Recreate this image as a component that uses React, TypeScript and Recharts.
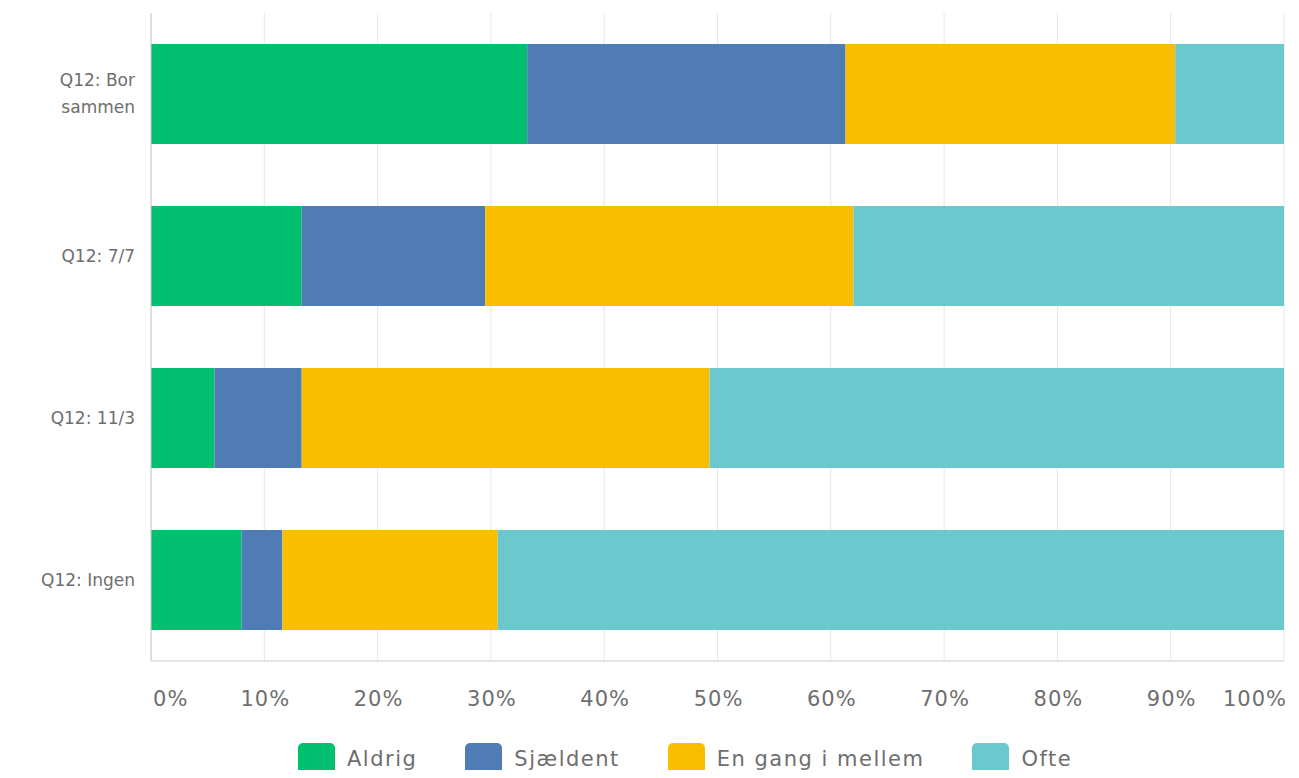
import React from "react";
import { BarChart, Bar, XAxis, YAxis, CartesianGrid } from "recharts";

const categories = ["Q12: Bor sammen", "Q12: 7/7", "Q12: 11/3", "Q12: Ingen"];
const seriesNames = ["Aldrig", "Sjældent", "En gang i mellem", "Ofte"];
const seriesKeys = ["aldrig", "sjaeldent", "engang", "ofte"];
const colors = ["#00BF6F", "#507CB6", "#F9BE00", "#6BC8CD"];
const aldrig = [33.2, 13.3, 5.6, 8.0];
const sjaeldent = [28.1, 16.2, 7.7, 3.6];
const engang = [29.1, 32.5, 36.0, 19.0];
const ofte = [9.6, 38.0, 50.7, 69.4];
const xTicks = [0, 10, 20, 30, 40, 50, 60, 70, 80, 90, 100];

const data = categories.map((c, i) => ({
  name: c,
  aldrig: aldrig[i],
  sjaeldent: sjaeldent[i],
  engang: engang[i],
  ofte: ofte[i],
}));

const FONT = "'DejaVu Sans', sans-serif";
const TEXT = "#6e6e6e";

const XTick = (props: any) => {
  const { x, y, payload } = props;
  const v = payload.value;
  let anchor: "start" | "middle" | "end" = "middle";
  let dx = 1;
  if (v === 0) {
    anchor = "start";
    dx = 2;
  } else if (v === 100) {
    anchor = "end";
    dx = 3;
  }
  return (
    <text
      x={x + dx}
      y={y + 37}
      textAnchor={anchor}
      fill={TEXT}
      fontSize={21}
      letterSpacing={1}
      fontFamily={FONT}
    >
      {v}%
    </text>
  );
};

const wrapLabel = (s: string): string[] => {
  if (s.length <= 10) return [s];
  const words = s.split(" ");
  const lines: string[] = [];
  let cur = "";
  for (const w of words) {
    const t = cur ? cur + " " + w : w;
    if (t.length > 9 && cur) {
      lines.push(cur);
      cur = w;
    } else cur = t;
  }
  if (cur) lines.push(cur);
  return lines;
};

const YTick = (props: any) => {
  const { y, payload } = props;
  const lines = wrapLabel(payload.value);
  const lh = 27;
  const start = y - ((lines.length - 1) * lh) / 2;
  return (
    <text textAnchor="end" fill={TEXT} fontSize={17} fontFamily={FONT}>
      {lines.map((l, i) => (
        <tspan key={i} x={135} y={start + i * lh} dy="0.35em">
          {l}
        </tspan>
      ))}
    </text>
  );
};

export default function App() {
  return (
    <div style={{ position: "relative", width: 1299, height: 778, margin: -8, background: "#fff" }}>
      <BarChart
        width={1299}
        height={778}
        data={data}
        layout="vertical"
        margin={{ top: 13, right: 15, bottom: 0, left: 0 }}
        barCategoryGap={31}
      >
        <CartesianGrid horizontal={false} vertical={true} stroke="#e6e6e6" />
        <XAxis
          type="number"
          domain={[0, 100]}
          ticks={xTicks}
          tick={<XTick />}
          tickLine={false}
          axisLine={{ stroke: "#cccccc" }}
          height={117}
          interval={0}
        />
        <YAxis
          type="category"
          dataKey="name"
          width={151}
          tick={<YTick />}
          tickLine={false}
          axisLine={{ stroke: "#cccccc" }}
        />
        {seriesKeys.map((k, i) => (
          <Bar key={k} dataKey={k} name={seriesNames[i]} stackId="a" fill={colors[i]} barSize={100} isAnimationActive={false} />
        ))}
      </BarChart>
      <div
        style={{
          position: "absolute",
          top: 743,
          left: 298,
          display: "flex",
          alignItems: "center",
          fontFamily: FONT,
          fontSize: 21,
          letterSpacing: 1.5,
          color: TEXT,
          whiteSpace: "nowrap",
        }}
      >
        {seriesNames.map((n, i) => (
          <div key={n} style={{ display: "flex", alignItems: "center", marginRight: 48 }}>
            <div style={{ width: 37, height: 32, borderRadius: 5, background: colors[i], marginRight: 12 }} />
            <span>{n}</span>
          </div>
        ))}
      </div>
    </div>
  );
}
